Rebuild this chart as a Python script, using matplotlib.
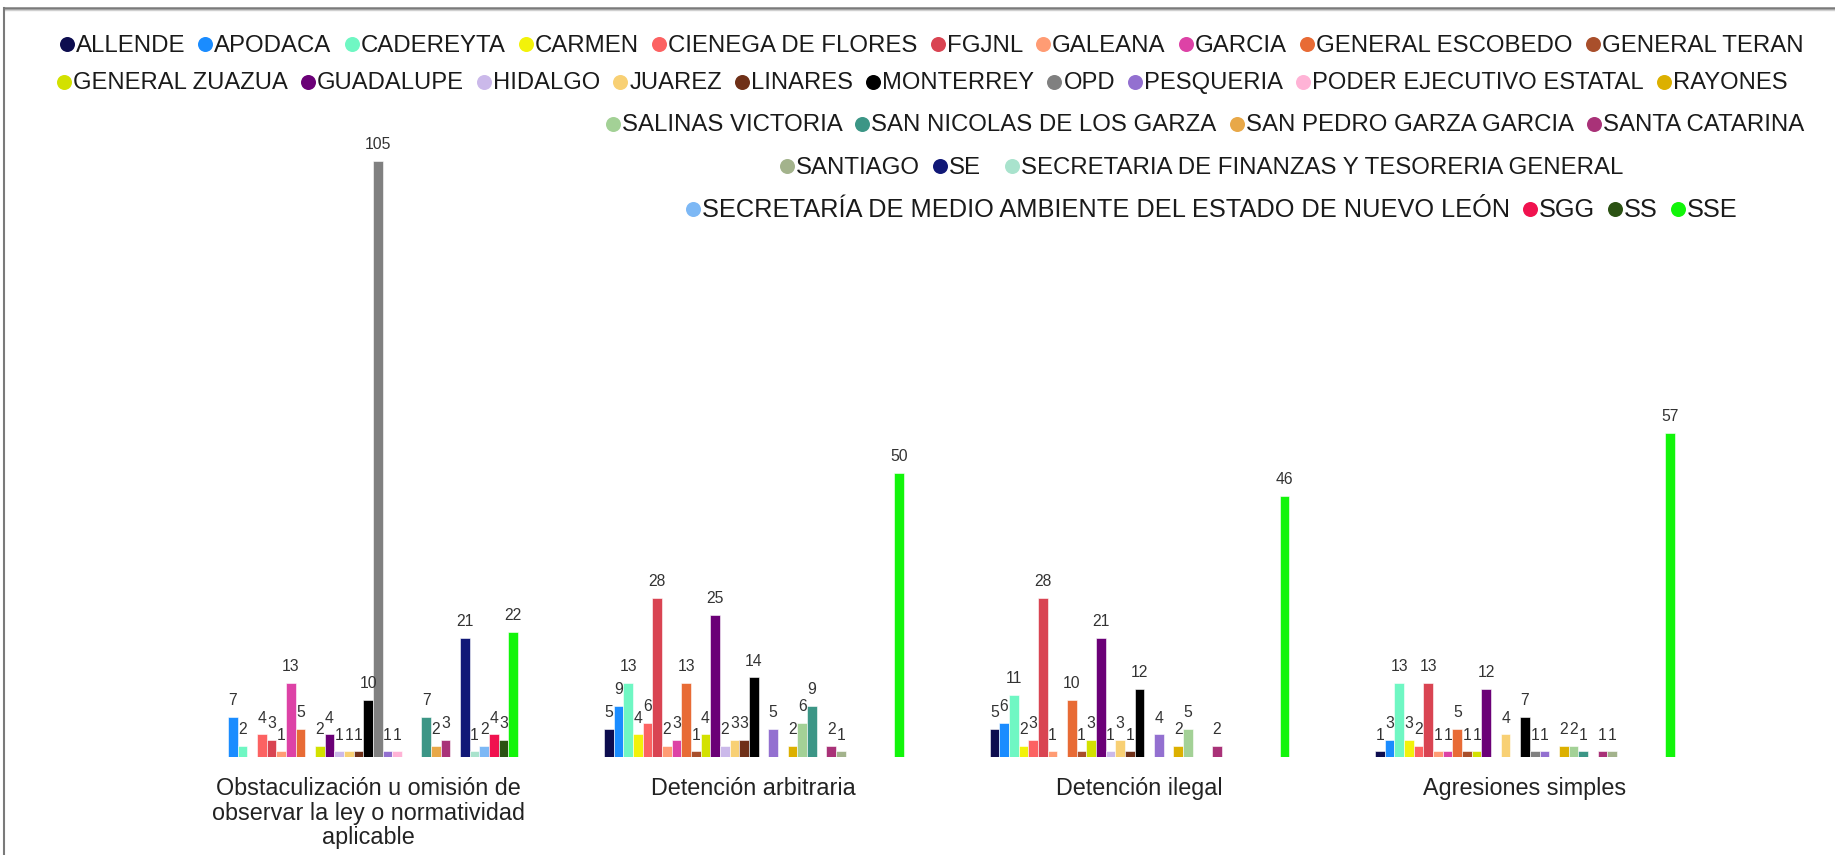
import matplotlib
matplotlib.use("Agg")
import matplotlib.pyplot as plt
from matplotlib.lines import Line2D
import numpy as np

plt.rcParams['font.family'] = ['Liberation Sans', 'DejaVu Sans']

categories = [
    "Obstaculización u omisión de\nobservar la ley o normatividad\naplicable",
    "Detención arbitraria",
    "Detención ilegal",
    "Agresiones simples",
]

series_names = [
    "ALLENDE", "APODACA", "CADEREYTA", "CARMEN", "CIENEGA DE FLORES", "FGJNL",
    "GALEANA", "GARCIA", "GENERAL ESCOBEDO", "GENERAL TERAN", "GENERAL ZUAZUA",
    "GUADALUPE", "HIDALGO", "JUAREZ", "LINARES", "MONTERREY", "OPD", "PESQUERIA",
    "PODER EJECUTIVO ESTATAL", "RAYONES", "SALINAS VICTORIA",
    "SAN NICOLAS DE LOS GARZA", "SAN PEDRO GARZA GARCIA", "SANTA CATARINA",
    "SANTIAGO", "SE", "SECRETARIA DE FINANZAS Y TESORERIA GENERAL",
    "SECRETARÍA DE MEDIO AMBIENTE DEL ESTADO DE NUEVO LEÓN", "SGG", "SS", "SSE",
]

series_colors = [
    "#0d0d4f", "#1a8cff", "#6ff7c3", "#f2f20a", "#fc6262", "#d94452",
    "#ff9c74", "#dd42a6", "#e86b35", "#a94f2b", "#d3e100",
    "#6b0077", "#cbb9ea", "#f8d074", "#6f3018", "#000000", "#808080", "#9370d0",
    "#ffb3d6", "#dcb000", "#a3d196",
    "#3c9686", "#e8a848", "#a93278",
    "#a3b38c", "#111877", "#a9e3cd",
    "#7db8f5", "#f0124f", "#2b5213", "#12f50a",
]

# values per series, one entry per category
obstaculizacion = [0, 7, 2, 0, 4, 3, 1, 13, 5, 0, 2, 4, 1, 1, 1, 10, 105, 1, 1, 0, 0, 7, 2, 3, 0, 21, 1, 2, 4, 3, 22]
det_arbitraria  = [5, 9, 13, 4, 6, 28, 2, 3, 13, 1, 4, 25, 2, 3, 3, 14, 0, 5, 0, 2, 6, 9, 0, 2, 1, 0, 0, 0, 0, 0, 50]
det_ilegal      = [5, 6, 11, 2, 3, 28, 1, 0, 10, 1, 3, 21, 1, 3, 1, 12, 0, 4, 0, 2, 5, 0, 0, 2, 0, 0, 0, 0, 0, 0, 46]
agresiones      = [1, 3, 13, 3, 2, 13, 1, 1, 5, 1, 1, 12, 0, 4, 0, 7, 1, 1, 0, 2, 2, 1, 0, 1, 1, 0, 0, 0, 0, 0, 57]

legend_rows = [
    list(range(0, 10)),
    list(range(10, 20)),
    list(range(20, 24)),
    list(range(24, 27)),
    list(range(27, 31)),
]

W, H = 1835, 855
fig = plt.figure(figsize=(W / 100, H / 100), dpi=100)
fig.patch.set_facecolor("white")

# axes placement (pixels)
ax_left, ax_width = 175.4, 1542.4
ax_bottom = 98.0
px_per_unit = 5.68
ymax = 120
ax = fig.add_axes([ax_left / W, ax_bottom / H, ax_width / W, ymax * px_per_unit / H])
ax.set_xlim(-0.5, 3.5)
ax.set_ylim(0, ymax)
for s in ax.spines.values():
    s.set_visible(False)
ax.set_yticks([])
ax.patch.set_alpha(0)

data = np.array([obstaculizacion, det_arbitraria, det_ilegal, agresiones]).T  # series x categories
n = len(series_names)
x = np.arange(len(categories))
group_w = 0.7774
bw = group_w / n
for i in range(n):
    pos = x - group_w / 2 + bw * (i + 0.5)
    vals = data[i]
    cont = ax.bar(pos, vals, width=bw, color=series_colors[i],
                  edgecolor="white", linewidth=0.4)
    ax.bar_label(cont, labels=[str(v) if v else "" for v in vals],
                 padding=6.3, fontsize=11.3, color="#333333")

ax.set_xticks(x)
ax.set_xticklabels(categories, fontsize=16.8, color="#222222", linespacing=1.08)
ax.tick_params(axis="x", length=0, pad=14.5)

# legend rows drawn manually
row_fonts = [17.3, 17.1, 17.3, 17.3, 18.3]
row_starts = [59, 56, 605, 779, 685]
row_centers = [43, 80.5, 122.5, 165, 208]
extra_gap = {26: 11}
renderer = fig.canvas.get_renderer()
for row, x0, yc, fs in zip(legend_rows, row_starts, row_centers, row_fonts):
    xc = x0
    for idx in row:
        xc += extra_gap.get(idx, 0)
        fig.add_artist(Line2D([(xc + 7.5) / W], [(H - yc - 1.2) / H], marker="o",
                              markersize=10.8, color=series_colors[idx],
                              markeredgewidth=0, linestyle="none",
                              transform=fig.transFigure))
        t = fig.text((xc + 16.5) / W, (H - yc - 8.6) / H, series_names[idx],
                     fontsize=fs, color="#1a1a1a", va="baseline", ha="left")
        wpx = t.get_window_extent(renderer).width
        xc = xc + 16.5 + wpx + 12.7

# frame lines (top and left)
fig.add_artist(Line2D([4 / W, 1], [(H - 8.5) / H, (H - 8.5) / H], color="#7a7a7a",
                      linewidth=1.8, transform=fig.transFigure))
fig.add_artist(Line2D([4 / W, 1], [(H - 10.5) / H, (H - 10.5) / H], color="#d0d0d0",
                      linewidth=1.0, transform=fig.transFigure))
fig.add_artist(Line2D([4 / W, 4 / W], [0, (H - 8.5) / H], color="#7a7a7a",
                      linewidth=1.5, transform=fig.transFigure))

fig.savefig("out.png", dpi=100, facecolor="white")
